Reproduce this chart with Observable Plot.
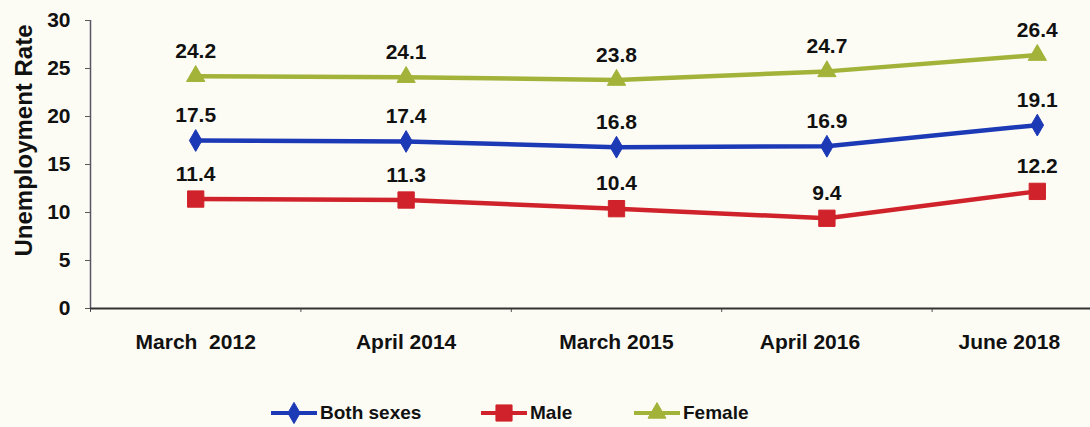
<!DOCTYPE html>
<html>
<head>
<meta charset="utf-8">
<script src="https://cdn.jsdelivr.net/npm/d3@7"></script>
<script src="https://cdn.jsdelivr.net/npm/@observablehq/plot@0.6"></script>
<style>
  html, body { margin: 0; padding: 0; background: #fdfcf4; }
  body { width: 1090px; height: 427px; overflow: hidden; position: relative;
         font-family: "Liberation Sans", Arial, sans-serif; }
  #chart svg { display: block; background: #fdfcf4; }
  .legend { position: absolute; top: 399px; left: 0; width: 1090px; height: 28px; }
  .item { position: absolute; top: 0; display: flex; align-items: center; height: 28px;
          font-weight: bold; font-size: 19px; color: #111; }
  .item svg { display: block; margin-right: 2px; }
</style>
</head>
<body>
<div id="chart"></div>
<div class="legend" id="legend"></div>
<script>
const categories = ["March\u00a0 2012", "April 2014", "March 2015", "April 2016", "June 2018"];
const bothSexes = [17.5, 17.4, 16.8, 16.9, 19.1];
const male = [11.4, 11.3, 10.4, 9.4, 12.2];
const female = [24.2, 24.1, 23.8, 24.7, 26.4];
const seriesNames = ["Both sexes", "Male", "Female"];
const seriesColors = ["#1c39b6", "#d0222a", "#a3b33a"];
const seriesSymbols = ["diamond", "square", "triangle"];
const yTicks = [0, 5, 10, 15, 20, 25, 30];

const seriesValues = [bothSexes, male, female];
const rows = seriesNames.flatMap((s, k) =>
  categories.map((c, i) => ({ idx: i, cat: c, value: seriesValues[k][i], series: s }))
);

const font = '"Liberation Sans", Arial, sans-serif';
const H = 375;

const dotMarks = seriesNames.map((s, k) =>
  Plot.dot(rows.filter(d => d.series === s), {
    x: "idx", y: "value",
    symbol: () => seriesSymbols[k],
    fill: seriesColors[k], stroke: seriesColors[k], strokeWidth: 1,
    r: [6.6, 9.2, 6.8][k]
  })
);

const labelStyle = { tickSize: 0, tickPadding: 26, label: null, fontSize: 21,
  fontWeight: "bold", fill: "#111", tickFormat: i => categories[i] };

const chart = Plot.plot({
  width: 1090,
  height: H,
  marginLeft: 90,
  marginRight: 0,
  marginTop: 20,
  marginBottom: H - 308,
  style: { background: "#fdfcf4", fontFamily: font, overflow: "visible" },
  x: { domain: [-0.5, 4.5], range: [90, 1142] },
  y: { domain: [0, 30] },
  marks: [
    Plot.axisY({ ticks: yTicks, tickSize: 5, tickPadding: 15, label: null,
      fontSize: 21, fontWeight: "bold", fill: "#111", stroke: "#555" }),
    Plot.axisX({ ...labelStyle, ticks: [0, 1, 2] }),
    Plot.axisX({ ...labelStyle, ticks: [3], dx: -17 }),
    Plot.axisX({ ...labelStyle, ticks: [4], dx: -28 }),
    Plot.axisX({ ticks: [-0.5, 0.5, 1.5, 2.5, 3.5], tickFormat: () => "", tickSize: 4,
      label: null, stroke: "#555" }),
    Plot.ruleX([-0.5], { stroke: "#5c5466", strokeWidth: 1.5 }),
    Plot.ruleY([0], { stroke: "#333", strokeWidth: 1.8 }),
    Plot.line(rows, { x: "idx", y: "value", z: "series",
      stroke: d => seriesColors[seriesNames.indexOf(d.series)], strokeWidth: 4.5 }),
    ...dotMarks,
    Plot.text(rows, { x: "idx", y: "value", text: d => d.value.toFixed(1), dy: -25,
      fontSize: 21, fontWeight: "bold", fill: "#111" }),
    Plot.text(["Unemployment Rate"], { frameAnchor: "left", textAnchor: "middle",
      dx: -66, dy: -24, rotate: -90,
      fontSize: 24, fontWeight: "bold", fill: "#111" })
  ]
});
document.getElementById("chart").appendChild(chart);

// Legend
const legendLeft = [270, 480, 633];
const legend = document.getElementById("legend");
seriesNames.forEach((s, k) => {
  const item = document.createElement("div");
  item.className = "item";
  item.style.left = legendLeft[k] + "px";
  const sw = d3.create("svg").attr("width", 48).attr("height", 24);
  sw.append("line").attr("x1", 1).attr("x2", 47).attr("y1", 12).attr("y2", 12)
    .attr("stroke", seriesColors[k]).attr("stroke-width", 4);
  const sym = d3.symbol().type([d3.symbolDiamond, d3.symbolSquare, d3.symbolTriangle][k])
    .size([130, 260, 140][k]);
  sw.append("path").attr("d", sym()).attr("transform", "translate(24,12)")
    .attr("fill", seriesColors[k]).attr("stroke", seriesColors[k]);
  item.appendChild(sw.node());
  const span = document.createElement("span");
  span.textContent = s;
  item.appendChild(span);
  legend.appendChild(item);
});
</script>
</body>
</html>
